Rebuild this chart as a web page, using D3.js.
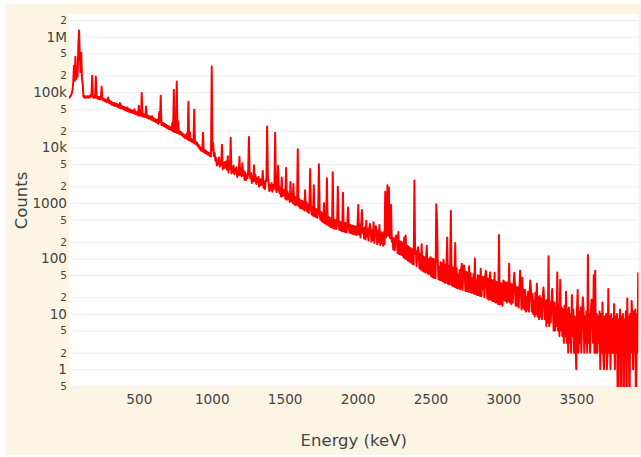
<!DOCTYPE html>
<html>
<head>
<meta charset="utf-8">
<script src="https://cdn.jsdelivr.net/npm/d3@7"></script>
<style>
  body { margin: 0; background: #fff; }
  svg { display: block; }
</style>
</head>
<body>
<div id="chart"></div>
<script>
// spectrum counts, one array per energy band
// 20-295 keV, 5 keV bins
const countsLow = [
  78000, 80000, 84000, 88000, 95000, 110000, 150000, 300000, 160000, 435000,
  170000, 275000, 190000, 700000, 1300000, 480000, 230000, 515000, 180000, 140000,
  84000, 80000, 85000, 79000, 83000, 80000, 85000, 79000, 84000, 81000,
  90000, 84000, 197000, 86000, 79000, 84000, 80000, 190000, 85000, 77000,
  82000, 75000, 82000, 74000, 79000, 125000, 73000, 77000, 70000, 75000,
  68000, 73000, 66000, 71000, 80000, 64000
];
// 300-995 keV, 5 keV bins
const countsMid = [
  70000, 62000, 67000, 59000, 64500, 58000, 64000, 56500, 62500, 55500,
  61500, 54000, 59500, 52500, 64000, 51500, 57500, 50500, 55000, 49000,
  54000, 47500, 52000, 46000, 53000, 45000, 50000, 44000, 48500, 43500,
  47500, 42500, 46500, 41500, 49000, 40500, 44500, 39500, 43500, 38500,
  57000, 37500, 42000, 37500, 97000, 36500, 41000, 36000, 40000, 35500,
  55000, 34500, 38000, 33500, 37000, 33000, 36000, 31800, 37000, 31000,
  34000, 30000, 33000, 29000, 31500, 28000, 32000, 27000, 44000, 29000,
  86000, 25500, 28000, 25000, 27500, 24200, 26500, 23200, 25500, 22400,
  24500, 21600, 24000, 21200, 23000, 20400, 28000, 19800, 110000, 19200,
  35000, 18800, 155000, 18300, 30000, 17800, 19700, 17500, 19200, 16700,
  18000, 15700, 17100, 15000, 16500, 14500, 18000, 14000, 67000, 13600,
  19000, 13100, 14300, 12600, 13800, 12200, 48000, 11800, 12800, 11200,
  12200, 10500, 11200, 9600, 10100, 8900, 9800, 8600, 18500, 8300,
  9100, 8000, 8700, 7700, 8300, 7400, 8100, 7100, 7800, 6900
];
// 1000-1495 keV, 5 keV bins
const counts1000 = [
  290000, 9000, 12000, 7000, 8000, 5800, 6500, 4750, 5800, 5050,
  6600, 4550, 5700, 4900, 11200, 4050, 5200, 4300, 5450, 4350,
  5600, 4000, 7000, 3550, 5050, 4100, 15000, 3400, 4150, 3600,
  4750, 3300, 4150, 3550, 4400, 2950, 3800, 3180, 6800, 3250,
  4180, 3030, 5200, 3150, 3800, 2610, 3540, 2610, 3200, 2790,
  3700, 15600, 3250, 2780, 3440, 2300, 3040, 2450, 4800, 2490,
  3200, 2200, 2790, 2390, 2950, 1970, 2650, 2110, 2690, 2130,
  3800, 1890, 2400, 1790, 2600, 2500, 24000, 3100, 2440, 1640,
  2090, 1750, 2290, 1600, 2110, 1770, 2120, 18500, 1810, 1580,
  2030, 4700, 1770, 1520, 1910, 1310, 2900, 1340, 1710, 1380
];
// 1500-1995 keV, 5 keV bins
const counts1500 = [
  1740, 1200, 4300, 1150, 1600, 1190, 1430, 1050, 2400, 1090,
  1450, 1000, 2200, 950, 1290, 910, 1280, 940, 9300, 880,
  1200, 820, 1110, 800, 1090, 790, 1050, 730, 1700, 760,
  1020, 700, 940, 660, 920, 4100, 880, 620, 860, 590,
  2100, 580, 800, 560, 770, 540, 730, 5000, 700, 500,
  690, 470, 650, 450, 1000, 430, 600, 420, 2800, 400,
  570, 390, 540, 370, 520, 360, 3600, 350, 500, 345,
  490, 340, 470, 1970, 470, 330, 460, 320, 450, 310,
  1540, 310, 440, 300, 430, 295, 420, 830, 410, 290,
  400, 285, 395, 280, 390, 275, 380, 270, 375, 265
];
// 2000-2495 keV, 5 keV bins
const counts2000 = [
  400, 920, 270, 410, 240, 380, 745, 290, 350, 230,
  360, 220, 480, 250, 340, 210, 330, 420, 345, 200,
  320, 215, 450, 190, 330, 380, 310, 180, 320, 200,
  400, 175, 300, 190, 285, 170, 300, 180, 1600, 240,
  290, 2100, 260, 1900, 250, 230, 920, 200, 240, 145,
  230, 140, 220, 260, 225, 125, 300, 120, 205, 118,
  200, 115, 190, 105, 240, 100, 260, 98, 170, 92,
  165, 88, 155, 85, 150, 80, 145, 78, 2550, 120,
  135, 72, 128, 160, 125, 66, 120, 63, 180, 60,
  110, 58, 105, 56, 100, 170, 54, 97, 52, 95
];
// 2500-2995 keV, 5 keV bins
const counts2500 = [
  105, 48, 100, 46, 98, 45, 95, 44, 950, 490,
  90, 42, 70, 41, 85, 40, 82, 39, 95, 37,
  78, 36, 76, 240, 35, 74, 34, 72, 720, 33,
  70, 32, 68, 31, 190, 30, 65, 29, 50, 29,
  62, 28, 60, 80, 27, 59, 75, 58, 26, 57,
  26, 56, 25, 72, 25, 54, 24, 44, 24, 52,
  23, 100, 23, 40, 22, 50, 22, 49, 21, 65,
  21, 47, 28, 46, 20, 45, 60, 44, 19, 43,
  18, 42, 56, 18, 41, 17, 40, 17, 55, 16,
  38, 16, 37, 15, 265, 15, 36, 15, 35, 14
];
// 3000-3495 keV, 5 keV bins
const counts3000 = [
  40, 18, 38, 17, 36, 16, 37, 17, 80, 16,
  35, 15, 34, 16, 33, 55, 32, 14, 31, 14,
  30, 13, 29, 60, 28, 12, 45, 13, 27, 12,
  27, 11, 20, 12, 25, 11, 24, 40, 26, 11,
  23, 10, 17, 9, 24, 10, 35, 9, 20, 8,
  21, 9, 19, 8, 20, 30, 18, 8, 17, 6,
  18, 7, 110, 6, 16, 7, 15, 28, 14, 5,
  16, 5, 13, 6, 56, 5, 14, 4, 41, 5,
  13, 4, 12, 3, 14, 4, 25, 3, 12, 2,
  13, 3, 10, 2, 22, 4, 12, 2, 9, 3
];
// 3500-3925 keV, 5 keV bins
const counts3500 = [
  1, 12, 27, 2, 11, 3, 13, 2, 10, 20,
  12, 2, 9, 3, 11, 2, 115, 3, 10, 2,
  11, 18, 9, 3, 50, 2, 60, 2, 10, 2,
  9, 3, 11, 1, 10, 2, 16, 2, 1, 9,
  2, 10, 1, 2, 28, 2, 9, 1, 10, 2,
  8, 2, 15, 1, 9, 2, 10, 0, 8, 2,
  12, 0, 9, 2, 10, 0, 8, 2, 11, 0,
  19, 2, 9, 0, 10, 2, 17, 9, 1, 11,
  2, 12, 0, 10, 2, 56
];

const bands = [
  { start: 20, step: 5, counts: countsLow },
  { start: 300, step: 5, counts: countsMid },
  { start: 1000, step: 5, counts: counts1000 },
  { start: 1500, step: 5, counts: counts1500 },
  { start: 2000, step: 5, counts: counts2000 },
  { start: 2500, step: 5, counts: counts2500 },
  { start: 3000, step: 5, counts: counts3000 },
  { start: 3500, step: 5, counts: counts3500 }
];

const xTicks = [500, 1000, 1500, 2000, 2500, 3000, 3500];
const yTicks = [0.5, 1, 2, 5, 10, 20, 50, 100, 200, 500, 1000, 2000, 5000,
  1e4, 2e4, 5e4, 1e5, 2e5, 5e5, 1e6, 2e6];
const yTickLabels = ["5", "1", "2", "5", "10", "2", "5", "100", "2", "5", "1000", "2", "5",
  "10k", "2", "5", "100k", "2", "5", "1M", "2"];

// layout
const W = 641, H = 457;
const plot = { left: 69, right: 638.5, top: 14, bottom: 387 };
const font = "'DejaVu Sans', Verdana, sans-serif";

const x = d3.scaleLinear().domain([21, 3927]).range([plot.left, plot.right]);
const y = d3.scaleLog().domain([Math.pow(10, -0.319), Math.pow(10, 6.41)]).range([plot.bottom, plot.top]);

const svg = d3.select("#chart").append("svg")
  .attr("width", W).attr("height", H)
  .style("font-family", font);

// paper + plot background
svg.append("rect").attr("x", 5).attr("y", 4).attr("width", W - 5).attr("height", H - 6)
  .attr("fill", "#fdf5e4");
svg.append("rect").attr("x", plot.left).attr("y", plot.top)
  .attr("width", plot.right - plot.left).attr("height", plot.bottom - plot.top)
  .attr("fill", "#fff");

svg.append("clipPath").attr("id", "clip").append("rect")
  .attr("x", plot.left).attr("y", plot.top)
  .attr("width", plot.right - plot.left).attr("height", plot.bottom - plot.top);

// y axis with grid
const yAxis = svg.append("g")
  .attr("transform", `translate(${plot.left},0)`)
  .call(d3.axisLeft(y).tickValues(yTicks)
    .tickSize(-(plot.right - plot.left)).tickPadding(2)
    .tickFormat((d, i) => yTickLabels[i]));
yAxis.select(".domain").remove();
yAxis.selectAll(".tick line").attr("stroke", "#eee").attr("stroke-width", 1);
yAxis.selectAll(".tick text")
  .attr("fill", "#444")
  .style("font-family", font)
  .style("font-size", (d, i) => yTickLabels[i].length === 1 && d !== 1 ? "10.5px" : "13.6px");

// x axis (no grid)
const xAxis = svg.append("g")
  .attr("transform", `translate(0,${plot.bottom})`)
  .call(d3.axisBottom(x).tickValues(xTicks).tickSize(0).tickPadding(7)
    .tickFormat(d3.format("d")));
xAxis.select(".domain").remove();
xAxis.selectAll(".tick text").attr("fill", "#444")
  .style("font-family", font).style("font-size", "13.6px");

// spectrum
const points = bands.flatMap(b => b.counts.map((c, i) => ({ e: b.start + i * b.step, c })));
const line = d3.line()
  .x(d => x(d.e))
  .y(d => y(Math.max(d.c, 0.1)));

svg.append("path")
  .datum(points)
  .attr("clip-path", "url(#clip)")
  .attr("fill", "none")
  .attr("stroke", "#ff0000")
  .attr("stroke-width", 2)
  .attr("stroke-linejoin", "round")
  .attr("d", line);

// axis titles
svg.append("text")
  .attr("x", (plot.left + plot.right) / 2).attr("y", 446)
  .attr("text-anchor", "middle").attr("fill", "#444")
  .style("font-size", "16.5px")
  .text("Energy (keV)");

svg.append("text")
  .attr("transform", `translate(26.5,${(plot.top + plot.bottom) / 2}) rotate(-90)`)
  .attr("text-anchor", "middle").attr("fill", "#444")
  .style("font-size", "16.5px")
  .text("Counts");
</script>
</body>
</html>
